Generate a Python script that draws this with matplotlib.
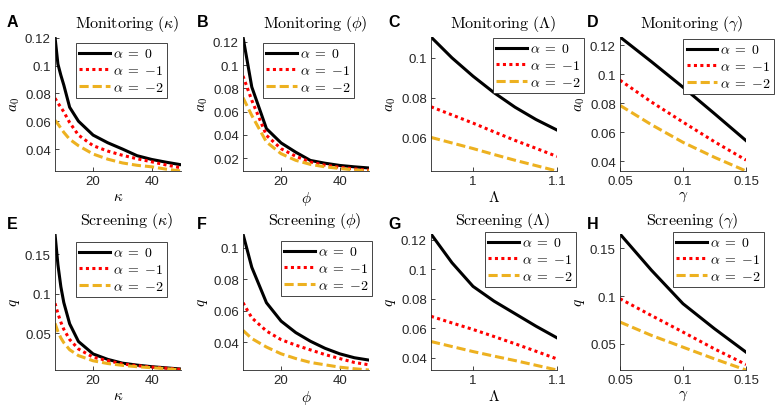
import matplotlib
matplotlib.use("Agg")
import matplotlib.pyplot as plt
from matplotlib.ticker import FuncFormatter

plt.rcParams['font.family'] = ['Liberation Sans', 'DejaVu Sans']
plt.rcParams['mathtext.fontset'] = 'cm'

# x grids
kappa_m = [7, 8, 9, 10, 12, 15, 20, 25, 30, 35, 40, 45, 50]
kappa_s = [7, 8, 9, 10, 12, 15, 20, 25, 30, 35, 40, 45, 50]
phi = [7, 10, 15, 20, 25, 30, 35, 40, 45, 50]
lam = [0.95, 0.975, 1.0, 1.025, 1.05, 1.075, 1.1]
gam = [0.05, 0.075, 0.1, 0.125, 0.15]

# Monitoring (a_0), alpha = 0, -1, -2
mon_kappa_0 = [0.1205, 0.101, 0.093, 0.086, 0.070, 0.060, 0.050, 0.0445, 0.0400, 0.0352, 0.0325, 0.0305, 0.0287]
mon_kappa_1 = [0.0765, 0.073, 0.070, 0.0667, 0.059, 0.050, 0.0424, 0.0385, 0.0355, 0.033, 0.0308, 0.0285, 0.0265]
mon_kappa_2 = [0.0606, 0.058, 0.055, 0.052, 0.047, 0.0424, 0.0364, 0.0327, 0.030, 0.0283, 0.0272, 0.0255, 0.0242]

mon_phi_0 = [0.1243, 0.0812, 0.0453, 0.033, 0.025, 0.0179, 0.0155, 0.0136, 0.0124, 0.0114]
mon_phi_1 = [0.0907, 0.0697, 0.0395, 0.028, 0.0215, 0.0165, 0.0138, 0.012, 0.0106, 0.0095]
mon_phi_2 = [0.072, 0.0567, 0.0338, 0.0237, 0.018, 0.0145, 0.0124, 0.011, 0.0097, 0.0088]

mon_lam_0 = [0.1105, 0.1000, 0.0908, 0.0825, 0.0752, 0.0690, 0.0637]
mon_lam_1 = [0.0754, 0.0713, 0.0672, 0.0628, 0.0585, 0.0545, 0.0504]
mon_lam_2 = [0.060, 0.0572, 0.0544, 0.0514, 0.0485, 0.0458, 0.0431]

mon_gam_0 = [0.1255, 0.1085, 0.091, 0.0728, 0.0543]
mon_gam_1 = [0.0958, 0.0808, 0.067, 0.0535, 0.0409]
mon_gam_2 = [0.0785, 0.0652, 0.0531, 0.0428, 0.0334]

# Screening (q), alpha = 0, -1, -2
scr_kappa_0 = [0.176, 0.137, 0.109, 0.089, 0.062, 0.0395, 0.0237, 0.0168, 0.012, 0.0095, 0.0075, 0.006, 0.0045]
scr_kappa_1 = [0.088, 0.075, 0.064, 0.055, 0.042, 0.030, 0.0195, 0.0152, 0.011, 0.0088, 0.007, 0.0056, 0.004]
scr_kappa_2 = [0.0626, 0.052, 0.044, 0.038, 0.029, 0.0216, 0.015, 0.0115, 0.0092, 0.0075, 0.0062, 0.005, 0.0033]

scr_phi_0 = [0.1087, 0.0875, 0.065, 0.0533, 0.046, 0.0405, 0.036, 0.0325, 0.030, 0.0285]
scr_phi_1 = [0.065, 0.0554, 0.047, 0.0415, 0.038, 0.035, 0.032, 0.0295, 0.027, 0.0255]
scr_phi_2 = [0.0474, 0.0422, 0.0368, 0.0325, 0.0295, 0.027, 0.0255, 0.024, 0.023, 0.0222]

scr_lam_0 = [0.124, 0.1045, 0.0885, 0.0785, 0.070, 0.0615, 0.0536]
scr_lam_1 = [0.0682, 0.0637, 0.0593, 0.0545, 0.0496, 0.0445, 0.0393]
scr_lam_2 = [0.0511, 0.0477, 0.0443, 0.0412, 0.0382, 0.035, 0.0318]

scr_gam_0 = [0.165, 0.127, 0.092, 0.0658, 0.0413]
scr_gam_1 = [0.0972, 0.0796, 0.0623, 0.0447, 0.0283]
scr_gam_2 = [0.0728, 0.0588, 0.0465, 0.0342, 0.0226]

alpha_labels = [r'$\alpha\;=\;0$', r'$\alpha\;=\;{-1}$', r'$\alpha\;=\;{-2}$']

panels = [
    ('A', r'$\mathrm{Monitoring}\ (\kappa)$', kappa_m, [mon_kappa_0, mon_kappa_1, mon_kappa_2], r'$\kappa$', r'$a_0$',
     [20, 40], [0.04, 0.06, 0.08, 0.1, 0.12]),
    ('B', r'$\mathrm{Monitoring}\ (\phi)$', phi, [mon_phi_0, mon_phi_1, mon_phi_2], r'$\phi$', r'$a_0$',
     [20, 40], [0.02, 0.04, 0.06, 0.08, 0.1, 0.12]),
    ('C', r'$\mathrm{Monitoring}\ (\Lambda)$', lam, [mon_lam_0, mon_lam_1, mon_lam_2], r'$\Lambda$', r'$a_0$',
     [1.0, 1.1], [0.06, 0.08, 0.1]),
    ('D', r'$\mathrm{Monitoring}\ (\gamma)$', gam, [mon_gam_0, mon_gam_1, mon_gam_2], r'$\gamma$', r'$a_0$',
     [0.05, 0.1, 0.15], [0.04, 0.06, 0.08, 0.1, 0.12]),
    ('E', r'$\mathrm{Screening}\ (\kappa)$', kappa_s, [scr_kappa_0, scr_kappa_1, scr_kappa_2], r'$\kappa$', r'$q$',
     [20, 40], [0.05, 0.1, 0.15]),
    ('F', r'$\mathrm{Screening}\ (\phi)$', phi, [scr_phi_0, scr_phi_1, scr_phi_2], r'$\phi$', r'$q$',
     [20, 40], [0.04, 0.06, 0.08, 0.1]),
    ('G', r'$\mathrm{Screening}\ (\Lambda)$', lam, [scr_lam_0, scr_lam_1, scr_lam_2], r'$\Lambda$', r'$q$',
     [1.0, 1.1], [0.04, 0.06, 0.08, 0.1, 0.12]),
    ('H', r'$\mathrm{Screening}\ (\gamma)$', gam, [scr_gam_0, scr_gam_1, scr_gam_2], r'$\gamma$', r'$q$',
     [0.05, 0.1, 0.15], [0.05, 0.1, 0.15]),
]

W, H = 775, 410
fig = plt.figure(figsize=(W / 100, H / 100), dpi=100)

# layout in pixels
col_left = [55, 243, 431, 620]
ax_w = 126
row_top = [38, 235]
row_bot = [172, 371]
letter_x = [7, 197, 388, 587]
letter_y = [15, 217]
# (x, y, anchor corner) of each legend, in figure pixels
legend_pos = [(76, 44, 'upper left'), (263, 44, 'upper left'), (493, 39, 'upper left'), (774, 40, 'upper right'),
              (76, 243, 'upper left'), (281, 242, 'upper left'), (485, 233, 'upper left'), (673, 233, 'upper left')]

styles = [dict(color='black', linestyle='-'),
          dict(color=(1, 0, 0), linestyle=(0, (1, 1.1))),
          dict(color=(0.929, 0.694, 0.125), linestyle=(0, (3, 1.3)))]

fmt = FuncFormatter(lambda v, p: '%g' % round(v, 4))
dark = '#262626'

for i, (letter, title, x, ys, xl, yl, xt, yt) in enumerate(panels):
    r, c = divmod(i, 4)
    left = col_left[c] / W
    bottom = 1 - row_bot[r] / H
    height = (row_bot[r] - row_top[r]) / H
    ax = fig.add_axes([left, bottom, ax_w / W, height])

    for y, st, lab in zip(ys, styles, alpha_labels):
        ax.plot(x, y, lw=2.2, label=lab, **st)

    allv = [v for y in ys for v in y]
    ax.set_xlim(x[0], x[-1])
    ax.set_ylim(min(allv), max(allv))
    ax.set_xticks(xt)
    ax.set_yticks(yt)
    ax.xaxis.set_major_formatter(fmt)
    ax.yaxis.set_major_formatter(fmt)

    for s in ['top', 'right']:
        ax.spines[s].set_visible(False)
    for s in ['left', 'bottom']:
        ax.spines[s].set_color(dark)
        ax.spines[s].set_linewidth(0.6)
    ax.tick_params(direction='in', length=3, width=0.6, colors=dark, labelsize=9.5, pad=3)

    ax.set_xlabel(xl, fontsize=11, labelpad=1)
    ax.set_ylabel(yl, fontsize=11, labelpad=2)
    ax.text(0.57, 1.03, title, transform=ax.transAxes, ha='center', va='bottom', fontsize=11.5)

    fig.text(letter_x[c] / W, 1 - letter_y[r] / H, letter, fontsize=11.5, fontweight='bold',
             ha='left', va='top')

    lx, ly, corner = legend_pos[i]
    leg = ax.legend(loc=corner, bbox_to_anchor=(lx / W, 1 - ly / H),
                    bbox_transform=fig.transFigure, borderaxespad=0, fontsize=10,
                    handlelength=2.2, handletextpad=0.2, borderpad=0.25, labelspacing=0.2,
                    fancybox=False, framealpha=1)
    leg.get_frame().set_edgecolor(dark)
    leg.get_frame().set_linewidth(0.6)

fig.savefig('out.png', dpi=100)
